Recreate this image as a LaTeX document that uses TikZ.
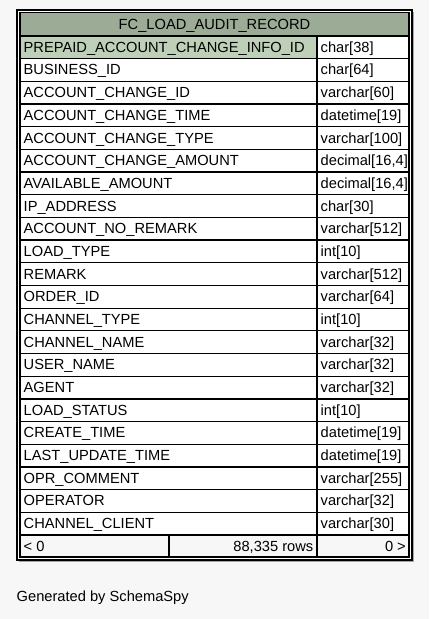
\documentclass[tikz,border=0pt]{standalone}
\usepackage{fontspec}
\setmainfont{Liberation Sans}
\definecolor{pagebg}{HTML}{F7F7F7}
\definecolor{headbg}{HTML}{9BAB96}
\definecolor{pkbg}{HTML}{BED1B8}
\tikzset{
  cell/.style={draw=black, line width=1.3pt},
  txt/.style={inner sep=0pt, font=\fontsize{14.67}{17}\selectfont, anchor=base west},
  txtr/.style={inner sep=0pt, font=\fontsize{14.67}{17}\selectfont, anchor=base east},
}
\begin{document}
\begin{tikzpicture}[x=1pt,y=-1pt]
\fill[pagebg] (0,0) rectangle (429,619);
\useasboundingbox (0,0) rectangle (429,619);
% shadow and outer border
\fill[gray!70] (19,12) rectangle (414,562);
\draw[line width=2pt, fill=white] (17,10) rectangle (412,560);
% header
\draw[cell, fill=headbg] (20,12.5) rectangle (409,36);
\node[inner sep=0pt, font=\fontsize{14.67}{17}\selectfont, anchor=base] (hdr) at (214.5,29) {FC\_LOAD\_AUDIT\_RECORD};
% rows
\def\rh{22.68}
\foreach [count=\i from 0] \n/\t in {
PREPAID\_ACCOUNT\_CHANGE\_INFO\_ID/char[38],
BUSINESS\_ID/char[64],
ACCOUNT\_CHANGE\_ID/varchar[60],
ACCOUNT\_CHANGE\_TIME/datetime[19],
ACCOUNT\_CHANGE\_TYPE/varchar[100],
ACCOUNT\_CHANGE\_AMOUNT/decimal[16{,}4],
AVAILABLE\_AMOUNT/decimal[16{,}4],
IP\_ADDRESS/char[30],
ACCOUNT\_NO\_REMARK/varchar[512],
LOAD\_TYPE/int[10],
REMARK/varchar[512],
ORDER\_ID/varchar[64],
CHANNEL\_TYPE/int[10],
CHANNEL\_NAME/varchar[32],
USER\_NAME/varchar[32],
AGENT/varchar[32],
LOAD\_STATUS/int[10],
CREATE\_TIME/datetime[19],
LAST\_UPDATE\_TIME/datetime[19],
OPR\_COMMENT/varchar[255],
OPERATOR/varchar[32],
CHANNEL\_CLIENT/varchar[30]} {
  \pgfmathsetmacro{\top}{36+\rh*\i}
  \pgfmathsetmacro{\bot}{36+\rh*(\i+1)}
  \pgfmathsetmacro{\base}{36+\rh*\i+16.3}
  \ifnum\i=0
    \draw[cell, fill=pkbg] (20,\top) rectangle (317,\bot);
  \else
    \draw[cell, fill=white] (20,\top) rectangle (317,\bot);
  \fi
  \draw[cell, fill=white] (317,\top) rectangle (409,\bot);
  \node[txt] (n\i) at (23.5,\base) {\n};
  \node[txt] (t\i) at (320.5,\base) {\t};
}
% footer
\pgfmathsetmacro{\ftop}{36+\rh*22}
\draw[cell, fill=pagebg] (20,\ftop) rectangle (169,557);
\draw[cell, fill=pagebg] (169,\ftop) rectangle (317,557);
\draw[cell, fill=pagebg] (317,\ftop) rectangle (409,557);
\node[txt] (fl) at (23.5,\ftop+16.3) {< 0};
\node[txtr] (fm) at (313.5,\ftop+16.3) {88,335 rows};
\node[txtr] (fr) at (406,\ftop+16.3) {0 >};
% caption
\node[txt] (gen) at (16.5,601) {Generated by SchemaSpy};
\end{tikzpicture}
\end{document}
